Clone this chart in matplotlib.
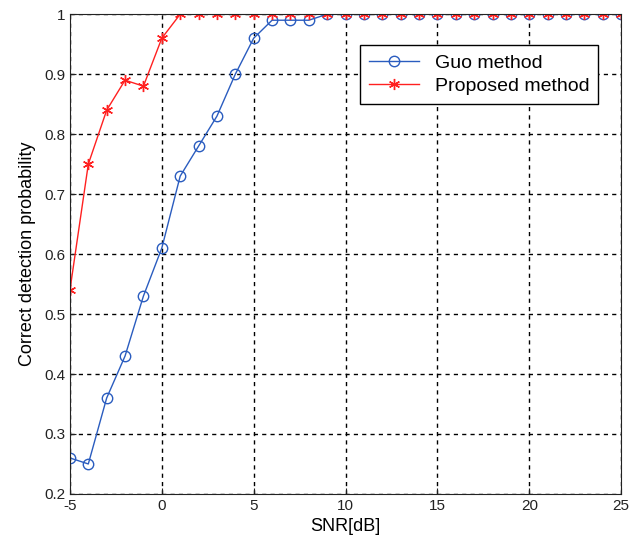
import numpy as np
import matplotlib
matplotlib.use('Agg')
import matplotlib.pyplot as plt

snr = np.arange(-5, 26)
guo = [0.26, 0.25, 0.36, 0.43, 0.53, 0.61, 0.73, 0.78, 0.83, 0.90, 0.96,
       0.99, 0.99, 0.99] + [1.0] * 17
proposed = [0.54, 0.75, 0.84, 0.89, 0.88, 0.96] + [1.0] * 25

plt.rcParams['font.family'] = ['Liberation Sans', 'DejaVu Sans']
plt.rcParams['font.size'] = 11
plt.rcParams['axes.unicode_minus'] = False

fig = plt.figure(figsize=(6.3, 5.47), dpi=100)
ax = fig.add_axes([0.111, 0.097, 0.875, 0.877])

ax.plot(snr, guo, '-o', color='#2a5cbf', lw=1, markersize=7.5, markerfacecolor='none',
        markeredgewidth=1, label='Guo method')
ax.plot(snr, proposed, '-', marker=(6, 2, 0), color='#ff2020', lw=1, markersize=8,
        markeredgewidth=1, label='Proposed method')

ax.set_xlim(-5, 25)
ax.set_ylim(0.2, 1.0)
ax.set_xticks(np.arange(-5, 26, 5))
ax.set_yticks(np.arange(0.2, 1.01, 0.1))
ax.set_yticklabels(['0.2', '0.3', '0.4', '0.5', '0.6', '0.7', '0.8', '0.9', '1'])
ax.grid(True, color='black', linestyle=(0, (3, 3)), linewidth=1)
ax.tick_params(direction='in', length=4, labelsize=11, colors='#222222')
for s in ax.spines.values():
    s.set_color('#222222')

ax.set_xlabel('SNR[dB]', fontsize=13, labelpad=4)
ax.set_ylabel('Correct detection probability', fontsize=13, labelpad=6)

leg = ax.legend(loc='upper right', bbox_to_anchor=(0.958, 0.935), fontsize=14,
                fancybox=False, edgecolor='black', framealpha=1, borderaxespad=0,
                handlelength=2.6, borderpad=0.45, labelspacing=0.3)
leg.get_frame().set_linewidth(1)

fig.savefig('out.png', dpi=100)
